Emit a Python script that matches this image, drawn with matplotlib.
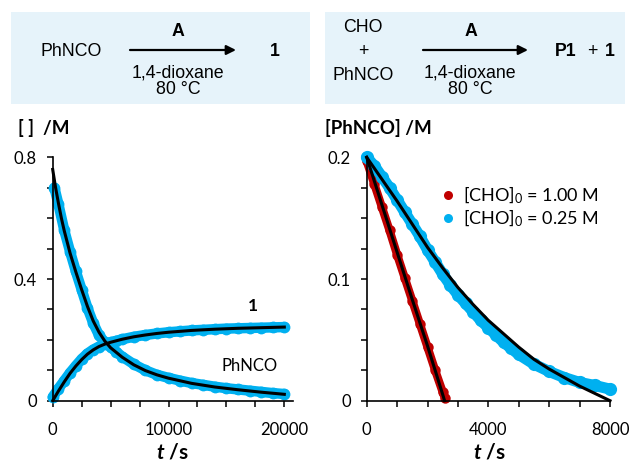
import matplotlib
matplotlib.use('Agg')
import matplotlib.pyplot as plt
from matplotlib.patches import Rectangle, FancyArrowPatch
from matplotlib.ticker import FixedLocator
from matplotlib.lines import Line2D

plt.rcParams['font.family'] = ['Lato', 'DejaVu Sans']
plt.rcParams['mathtext.fontset'] = 'custom'
plt.rcParams['mathtext.rm'] = 'Lato'
plt.rcParams['mathtext.it'] = 'Lato:italic'
plt.rcParams['mathtext.bf'] = 'Lato:bold'
try:
    plt.rcParams['mathtext.bfit'] = 'Lato:italic:bold'
    HAS_BFIT = True
except Exception:
    HAS_BFIT = False

# ---------------- data: left panel ----------------
t_phnco = [150, 500, 1000, 1500, 2000, 2500, 3000, 3500, 4000, 4500, 5000, 5500, 6000,
           7000, 8000, 9000, 10000, 11000, 12000, 13000, 14000, 15000, 16000, 17000,
           18000, 19000, 20000]
v_phnco = [0.700, 0.645, 0.560, 0.490, 0.425, 0.365, 0.305, 0.255, 0.215, 0.192, 0.176,
           0.160, 0.145, 0.120, 0.100, 0.085, 0.075, 0.066, 0.058, 0.052, 0.046, 0.041,
           0.037, 0.033, 0.029, 0.025, 0.022]
t_prod = [0, 500, 1000, 1500, 2000, 2500, 3000, 3500, 4000, 4500, 5000, 5500, 6000,
          7000, 8000, 9000, 10000, 11000, 12000, 13000, 14000, 15000, 16000, 17000,
          18000, 19000, 20000]
v_prod = [0.012, 0.040, 0.066, 0.092, 0.115, 0.137, 0.155, 0.168, 0.178, 0.186, 0.192,
          0.197, 0.202, 0.210, 0.216, 0.221, 0.225, 0.228, 0.231, 0.233, 0.235, 0.237,
          0.238, 0.239, 0.240, 0.241, 0.242]
t_fit_left = [0, 250, 500, 750, 1000, 1500, 2000, 2500, 3000, 3500, 4000, 4500, 5000,
              6000, 7000, 8000, 9000, 10000, 12000, 14000, 16000, 18000, 20000]
fit_phnco = [0.760, 0.700, 0.648, 0.600, 0.558, 0.485, 0.423, 0.365, 0.310, 0.262, 0.225,
             0.196, 0.174, 0.143, 0.118, 0.099, 0.085, 0.074, 0.057, 0.045, 0.036, 0.028,
             0.021]
fit_prod = [0.000, 0.016, 0.032, 0.047, 0.062, 0.090, 0.114, 0.135, 0.153, 0.167, 0.178,
            0.186, 0.192, 0.202, 0.210, 0.216, 0.221, 0.225, 0.231, 0.235, 0.238, 0.240,
            0.242]

# ---------------- data: right panel ----------------
t_red = [0, 250, 500, 750, 1000, 1250, 1500, 1750, 2000, 2250, 2500, 2575]
v_red = [0.197, 0.178, 0.159, 0.140, 0.120, 0.101, 0.082, 0.063, 0.044, 0.025, 0.007, 0.002]
t_red_fit = [0, 500, 1000, 1500, 2000, 2500, 2560]
v_red_fit = [0.200, 0.161, 0.122, 0.083, 0.045, 0.005, 0.000]

t_blue = [0, 250, 500, 750, 1000, 1250, 1500, 1750, 2000, 2250, 2500, 2750, 3000, 3250,
          3500, 3750, 4000, 4250, 4500, 4750, 5000, 5500, 6000, 6500, 7000, 7500, 8000]
v_blue = [0.200, 0.193, 0.184, 0.175, 0.165, 0.155, 0.145, 0.135, 0.124, 0.114, 0.104,
          0.095, 0.087, 0.080, 0.073, 0.066, 0.060, 0.054, 0.048, 0.043, 0.038, 0.030,
          0.024, 0.019, 0.015, 0.0125, 0.0095]
t_blue_fit = [0, 500, 1000, 1500, 2000, 2500, 3000, 3500, 4000, 4500, 5000, 5500, 6000,
              6500, 7000, 7500, 8000]
v_blue_fit = [0.200, 0.182, 0.164, 0.145, 0.126, 0.109, 0.093, 0.079, 0.066, 0.055, 0.044,
              0.034, 0.026, 0.019, 0.012, 0.006, 0.000]

legend_labels = ['[CHO]$_0$ = 1.00 M', '[CHO]$_0$ = 0.25 M']
left_xticks = [0, 10000, 20000]
left_xticklabels = ['0', '10000', '20000']
left_yticks = [0, 0.4, 0.8]
left_yticklabels = ['0', '0.4', '0.8']
right_xticks = [0, 4000, 8000]
right_xticklabels = ['0', '4000', '8000']
right_yticks = [0, 0.1, 0.2]
right_yticklabels = ['0', '0.1', '0.2']

BLUE = '#00b0f0'
RED = '#c00000'
BOX = '#e6f3fa'

W, H = 631, 465
fig = plt.figure(figsize=(W / 100, H / 100), dpi=100)


def fx(p):
    return p / W


def fy(p):
    return 1 - p / H


# ---------------- reaction boxes ----------------
for x0, x1 in [(11, 310), (325, 625)]:
    fig.patches.append(Rectangle((fx(x0), fy(104)), fx(x1) - fx(x0), fy(12) - fy(104),
                                 transform=fig.transFigure, facecolor=BOX,
                                 edgecolor='none', zorder=0))


def arrow(x0, x1, y):
    fig.add_artist(FancyArrowPatch((fx(x0), fy(y)), (fx(x1), fy(y)),
                                   transform=fig.transFigure, arrowstyle='-|>',
                                   mutation_scale=14, lw=1.6, color='black',
                                   shrinkA=0, shrinkB=0))


sf = dict(family=['Liberation Sans', 'DejaVu Sans'], fontsize=12.8, ha='center',
          va='center')
fig.text(fx(71), fy(51), 'PhNCO', **sf)
fig.text(fx(178), fy(32), 'A', fontweight='bold', **sf)
fig.text(fx(178), fy(73), '1,4-dioxane', **sf)
fig.text(fx(178), fy(89), '80 °C', **sf)
fig.text(fx(275), fy(51), '1', fontweight='bold', **sf)
arrow(130, 236, 50)

fig.text(fx(363), fy(28), 'CHO', **sf)
fig.text(fx(363), fy(51), '+', **sf)
fig.text(fx(363), fy(75), 'PhNCO', **sf)
fig.text(fx(471), fy(32), 'A', fontweight='bold', **sf)
fig.text(fx(470), fy(73), '1,4-dioxane', **sf)
fig.text(fx(470), fy(89), '80 °C', **sf)
fig.text(fx(566), fy(51), 'P1', fontweight='bold', **sf)
fig.text(fx(592), fy(51), '+', **sf)
fig.text(fx(610), fy(51), '1', fontweight='bold', **sf)
arrow(423, 528, 50)

# ---------------- axes ----------------
y_top, y_bot = 157.3, 400.7
axL = fig.add_axes([fx(52.7), fy(y_bot), (293 - 52.7) / W, (y_bot - y_top) / H])
axR = fig.add_axes([fx(366.7), fy(y_bot), (610 - 366.7) / W, (y_bot - y_top) / H])

for ax in (axL, axR):
    for s in ('top', 'right'):
        ax.spines[s].set_visible(False)
    for s in ('left', 'bottom'):
        ax.spines[s].set_linewidth(1.2)
        ax.spines[s].set_color('black')
    ax.tick_params(which='both', direction='out', length=4.5, width=1.1, color='black',
                   labelsize=12)
    ax.tick_params(axis='y', pad=7.0)
    ax.tick_params(axis='x', pad=10.5)
    ax.set_facecolor('none')

axL.set_xlim(0, 20750)
axL.set_ylim(0, 0.8)
axL.xaxis.set_major_locator(FixedLocator(left_xticks))
axL.set_xticklabels(left_xticklabels)
axL.xaxis.set_minor_locator(FixedLocator([2500, 5000, 7500, 12500, 15000, 17500]))
axL.yaxis.set_major_locator(FixedLocator(left_yticks))
axL.set_yticklabels(left_yticklabels)
axL.yaxis.set_minor_locator(FixedLocator([0.1, 0.2, 0.3, 0.5, 0.6, 0.7]))

axR.set_xlim(0, 8000)
axR.set_ylim(0, 0.2)
axR.xaxis.set_major_locator(FixedLocator(right_xticks))
axR.set_xticklabels(right_xticklabels)
axR.xaxis.set_minor_locator(FixedLocator([1000, 2000, 3000, 5000, 6000, 7000]))
axR.yaxis.set_major_locator(FixedLocator(right_yticks))
axR.set_yticklabels(right_yticklabels)
axR.yaxis.set_minor_locator(FixedLocator([0.025, 0.05, 0.075, 0.125, 0.15, 0.175]))

# left data
for t, v in ((t_phnco, v_phnco), (t_prod, v_prod)):
    axL.plot(t, v, 'o-', color=BLUE, ms=8.5, mew=0, lw=7.5, solid_capstyle='round',
             clip_on=False, zorder=2)
for v in (fit_phnco, fit_prod):
    axL.plot(t_fit_left, v, color='black', lw=2.2, clip_on=False, zorder=3)

axL.text(17300, 0.311, '1', fontsize=12.5, fontweight='bold', ha='center', va='center')
axL.text(17040, 0.114, 'PhNCO', fontsize=12, ha='center', va='center')

# right data
axR.plot(t_red, v_red, 'o-', color=RED, ms=7.5, mew=0, lw=6, solid_capstyle='round',
         clip_on=False, zorder=2)
axR.plot(t_blue, v_blue, 'o-', color=BLUE, ms=9.5, mew=0, lw=8, solid_capstyle='round',
         clip_on=False, zorder=2)
axR.plot(t_red_fit, v_red_fit, color='black', lw=2.2, clip_on=False, zorder=3)
axR.plot(t_blue_fit, v_blue_fit, color='black', lw=2.2, clip_on=False, zorder=3)

handles = [Line2D([], [], ls='none', marker='o', ms=6.5, mew=0, color=RED),
           Line2D([], [], ls='none', marker='o', ms=6.5, mew=0, color=BLUE)]
axR.legend(handles, legend_labels, loc='upper left', bbox_to_anchor=(fx(441), fy(185)),
           bbox_transform=fig.transFigure, frameon=False, handlelength=0.75,
           handletextpad=0.45, labelspacing=0.05, borderpad=0, borderaxespad=0,
           fontsize=13)

# axis titles
fig.text(fx(18), fy(128), '[ ]  /M', fontsize=13.5, fontweight='bold', ha='left',
         va='center')
fig.text(fx(325), fy(128), '[PhNCO] /M', fontsize=13.5, fontweight='bold', ha='left',
         va='center')
xlab = r'$\mathbfit{t}$ /s' if HAS_BFIT else r'$\mathbf{t}$ /s'
fig.text(fx(172), fy(452), xlab, fontsize=15, fontweight='bold', ha='center', va='center')
fig.text(fx(489), fy(452), xlab, fontsize=15, fontweight='bold', ha='center', va='center')

fig.savefig('out.png', dpi=100)
